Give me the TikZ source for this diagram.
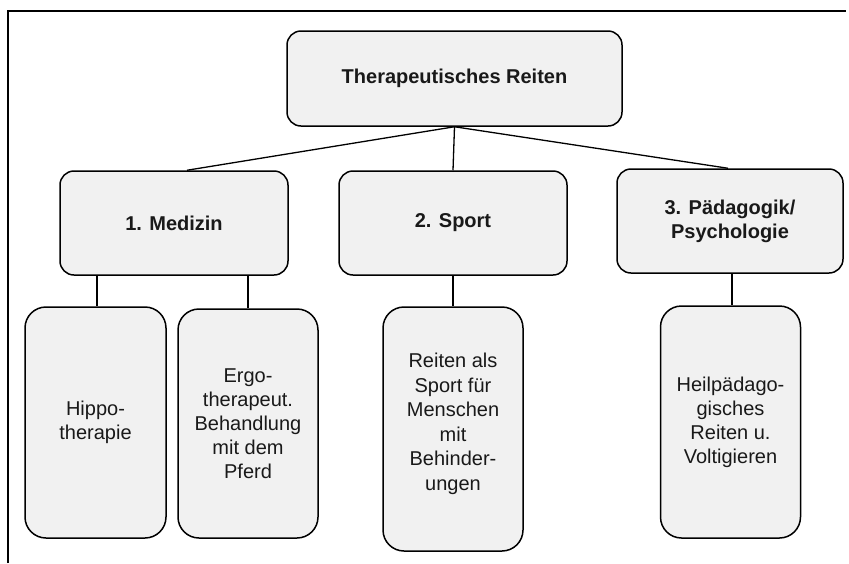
\documentclass[tikz,border=0pt]{standalone}
\usepackage{fontspec}
\setmainfont{Liberation Sans}
\begin{document}
\begin{tikzpicture}[x=1pt,y=-1pt,
  box/.style={draw=black, line width=1.5pt, fill=boxfill, inner sep=0pt,
    align=center, text=black!90, font=\fontsize{20}{24}\selectfont},
  topbox/.style={box, rounded corners=14pt, font=\fontsize{20}{24}\selectfont\bfseries},
  leafbox/.style={box, rounded corners=21pt},
  link/.style={draw=black, line width=1.3pt}]
\definecolor{boxfill}{HTML}{F1F1F1}
\useasboundingbox (0,0) rectangle (849,563);
% outer frame (open at the right and bottom)
\draw[line width=1.3pt] (8,563) -- (8,11) -- (846,11);

% root
\node[topbox, minimum width=335pt, minimum height=95pt] (root) at (454.5,78.5) {Therapeutisches Reiten};

% second level
\node[topbox, minimum width=228pt, minimum height=104pt] (med) at (174,223) {1. Medizin};
\node[topbox, minimum width=228pt, minimum height=104pt] (spo) at (453,223) {2. Sport};
\node[topbox, minimum width=226pt, minimum height=104pt] (paed) at (730,221) {3. Pädagogik/\\Psychologie};

% leaves
\node[leafbox, minimum width=141pt, minimum height=231pt] (hip) at (95.5,422.5) {Hippo-\\therapie};
\node[leafbox, minimum width=140pt, minimum height=229pt] (ergo) at (248,423.5) {Ergo-\\therapeut.\\Behandlung\\mit dem\\Pferd};
\node[leafbox, minimum width=140pt, minimum height=244pt] (rsp) at (453,429) {};
\node[align=center, font=\fontsize{20}{24.5}\selectfont, text=black!90, inner sep=0pt] (rsptext) at (453,424)
  {Reiten als\\Sport für\\Menschen\\mit\\Behinder-\\ungen};
\node[leafbox, minimum width=140pt, minimum height=232pt] (heil) at (730.5,422) {Heilpädago-\\gisches\\Reiten u.\\Voltigieren};

% connectors
\draw[link] (root.south) -- ([xshift=13pt]med.north);
\draw[link] (root.south) -- (spo.north);
\draw[link] (root.south) -- ([xshift=-2pt]paed.north);
\draw[link] ([xshift=1.5pt]hip.north |- med.south) -- ([xshift=1.5pt]hip.north);
\draw[link] (ergo.north |- med.south) -- (ergo.north);
\draw[link] (spo.south) -- (rsp.north);
\draw[link] ([xshift=1.5pt]heil.north |- paed.south) -- ([xshift=1.5pt]heil.north);
\end{tikzpicture}
\end{document}
